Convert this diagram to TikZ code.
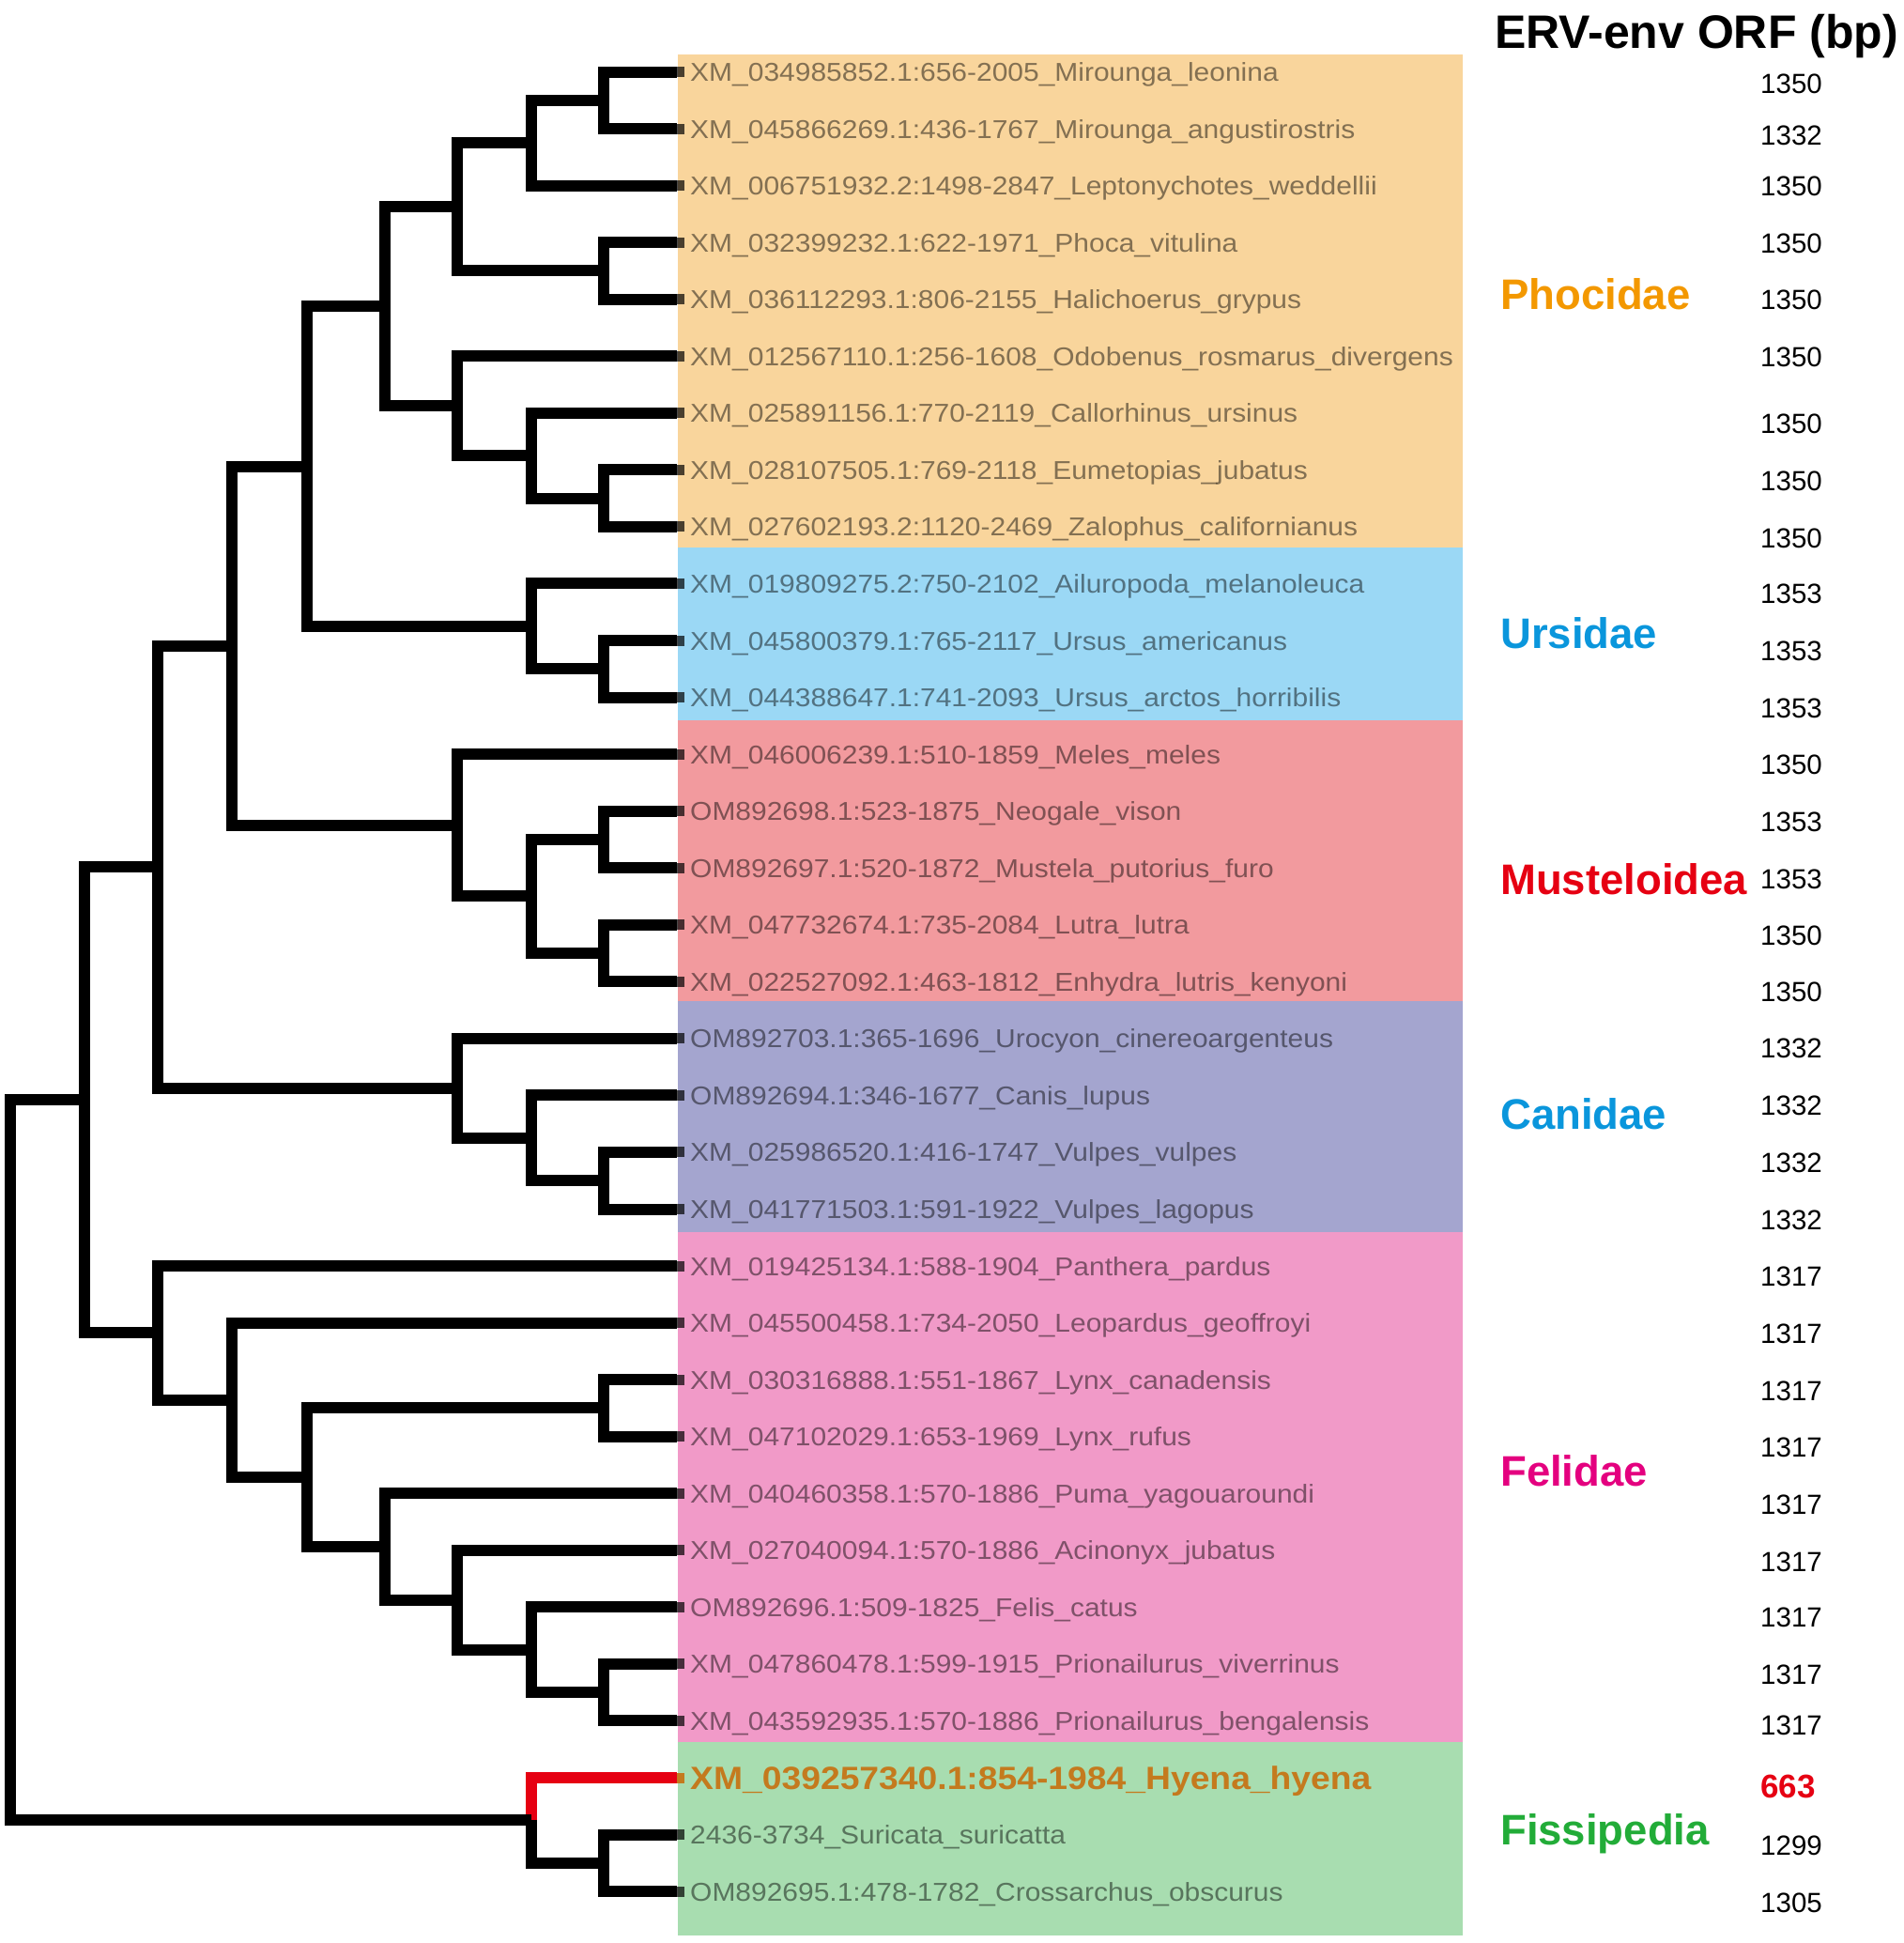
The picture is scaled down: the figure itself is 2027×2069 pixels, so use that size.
\documentclass[tikz,border=0pt]{standalone}
\usepackage{fontspec}
\setmainfont{Liberation Sans}
\newfontfamily\labfont[FakeStretch=1.09]{Liberation Sans}
\definecolor{bphoc}{HTML}{F9D59C}
\definecolor{burs}{HTML}{9BD8F5}
\definecolor{bmus}{HTML}{F29A9E}
\definecolor{bcan}{HTML}{A4A5CF}
\definecolor{bfel}{HTML}{F19AC8}
\definecolor{bfis}{HTML}{A8DDB0}
\definecolor{cphoc}{HTML}{F39800}
\definecolor{cblue}{HTML}{0A96DC}
\definecolor{cred}{HTML}{E60012}
\definecolor{cfel}{HTML}{E4007F}
\definecolor{cfis}{HTML}{22AC38}
\definecolor{chyena}{HTML}{C47A1E}
\newcommand\myleaf[3]{\coordinate (l#1) at (721,#2);
  \fill[stub] (721,{#2-5.5}) rectangle (729,{#2+5.5});
  \node[lab] (t#1) at (735,{#2+10}) {#3};}
\newcommand\mynum[3]{\node[num] (v#1) at (1875,{#2+10.6}) {#3};}
\begin{document}
\begin{tikzpicture}[x=1pt,y=-1pt,
  branch/.style={line width=12pt, line join=miter, draw=black},
  hyb/.style={line width=12pt, line join=miter, draw=cred},
  stub/.style={fill=black, fill opacity=0.7},
  lab/.style={anchor=base west, inner sep=0pt, font=\labfont\fontsize{27.5}{30}\selectfont, text=black, text opacity=0.47},
  num/.style={anchor=base west, inner sep=0pt, font=\fontsize{29.5}{30}\selectfont},
  grp/.style={anchor=base west, inner sep=0pt, font=\bfseries\fontsize{45.5}{48}\selectfont}]
\useasboundingbox (0,0) rectangle (2027,2069);
% bands
\fill[bphoc] (722,58) rectangle (1558,583);
\fill[burs] (722,583) rectangle (1558,767);
\fill[bmus] (722,767) rectangle (1558,1066);
\fill[bcan] (722,1066) rectangle (1558,1312);
\fill[bfel] (722,1312) rectangle (1558,1855);
\fill[bfis] (722,1855) rectangle (1558,2061);
% leaves
\myleaf{0}{76.5}{XM\_034985852.1:656-2005\_Mirounga\_leonina}
\myleaf{1}{137.05}{XM\_045866269.1:436-1767\_Mirounga\_angustirostris}
\myleaf{2}{197.6}{XM\_006751932.2:1498-2847\_Leptonychotes\_weddellii}
\myleaf{3}{258.15}{XM\_032399232.1:622-1971\_Phoca\_vitulina}
\myleaf{4}{318.7}{XM\_036112293.1:806-2155\_Halichoerus\_grypus}
\myleaf{5}{379.25}{XM\_012567110.1:256-1608\_Odobenus\_rosmarus\_divergens}
\myleaf{6}{439.8}{XM\_025891156.1:770-2119\_Callorhinus\_ursinus}
\myleaf{7}{500.35}{XM\_028107505.1:769-2118\_Eumetopias\_jubatus}
\myleaf{8}{560.9}{XM\_027602193.2:1120-2469\_Zalophus\_californianus}
\myleaf{9}{621.45}{XM\_019809275.2:750-2102\_Ailuropoda\_melanoleuca}
\myleaf{10}{682.0}{XM\_045800379.1:765-2117\_Ursus\_americanus}
\myleaf{11}{742.55}{XM\_044388647.1:741-2093\_Ursus\_arctos\_horribilis}
\myleaf{12}{803.1}{XM\_046006239.1:510-1859\_Meles\_meles}
\myleaf{13}{863.65}{OM892698.1:523-1875\_Neogale\_vison}
\myleaf{14}{924.2}{OM892697.1:520-1872\_Mustela\_putorius\_furo}
\myleaf{15}{984.75}{XM\_047732674.1:735-2084\_Lutra\_lutra}
\myleaf{16}{1045.3}{XM\_022527092.1:463-1812\_Enhydra\_lutris\_kenyoni}
\myleaf{17}{1105.85}{OM892703.1:365-1696\_Urocyon\_cinereoargenteus}
\myleaf{18}{1166.4}{OM892694.1:346-1677\_Canis\_lupus}
\myleaf{19}{1226.95}{XM\_025986520.1:416-1747\_Vulpes\_vulpes}
\myleaf{20}{1287.5}{XM\_041771503.1:591-1922\_Vulpes\_lagopus}
\myleaf{21}{1348.05}{XM\_019425134.1:588-1904\_Panthera\_pardus}
\myleaf{22}{1408.6}{XM\_045500458.1:734-2050\_Leopardus\_geoffroyi}
\myleaf{23}{1469.15}{XM\_030316888.1:551-1867\_Lynx\_canadensis}
\myleaf{24}{1529.7}{XM\_047102029.1:653-1969\_Lynx\_rufus}
\myleaf{25}{1590.25}{XM\_040460358.1:570-1886\_Puma\_yagouaroundi}
\myleaf{26}{1650.8}{XM\_027040094.1:570-1886\_Acinonyx\_jubatus}
\myleaf{27}{1711.35}{OM892696.1:509-1825\_Felis\_catus}
\myleaf{28}{1771.9}{XM\_047860478.1:599-1915\_Prionailurus\_viverrinus}
\myleaf{29}{1832.45}{XM\_043592935.1:570-1886\_Prionailurus\_bengalensis}
\coordinate (l30) at (721,1893);
\fill[chyena] (721,1887.5) rectangle (729,1898.5);
\node[anchor=base west, inner sep=0pt, font=\labfont\bfseries\fontsize{34.2}{36}\selectfont, text=chyena] (t30) at (735,1905.5) {XM\_039257340.1:854-1984\_Hyena\_hyena};
\myleaf{31}{1953.55}{2436-3734\_Suricata\_suricatta}
\myleaf{32}{2014.1}{OM892695.1:478-1782\_Crossarchus\_obscurus}
% internal nodes
\coordinate (a01) at (642.7,106.78);
\coordinate (a012) at (566.2,152.19);
\coordinate (a34) at (642.7,288.43);
\coordinate (a01234) at (487,220.31);
\coordinate (a78) at (642.7,530.63);
\coordinate (a678) at (566.2,485.21);
\coordinate (a5678) at (487,432.23);
\coordinate (aPho) at (410.4,326.27);
\coordinate (a1011) at (642.7,712.28);
\coordinate (aUrs) at (566.2,666.86);
\coordinate (aPU) at (327.3,496.57);
\coordinate (a1314) at (642.7,893.93);
\coordinate (a1516) at (642.7,1015.03);
\coordinate (a1316) at (566.2,954.48);
\coordinate (aMus) at (487,878.79);
\coordinate (aPUM) at (246.8,687.68);
\coordinate (a1920) at (642.7,1257.23);
\coordinate (a1820) at (566.2,1211.82);
\coordinate (aCan) at (487,1158.84);
\coordinate (aCanif) at (167.6,923.26);
\coordinate (a2324) at (642.7,1499.43);
\coordinate (a2829) at (642.7,1802.18);
\coordinate (a2729) at (566.2,1756.76);
\coordinate (a2629) at (487,1703.78);
\coordinate (a2529) at (410.4,1647.02);
\coordinate (a2329) at (327.3,1573.22);
\coordinate (a2229) at (246.8,1490.91);
\coordinate (aFel) at (167.6,1419.48);
\coordinate (aCF) at (89.7,1171.37);
\coordinate (a3132) at (642.7,1983.83);
\coordinate (aFis) at (566.2,1938.41);
\coordinate (root) at (10.6,1554.89);
% red hyena branch
\draw[hyb] (l30) -| (aFis);
% tree
\draw[branch] (l0) -| (a01) |- (l1);
\draw[branch] (a01) -| (a012) |- (l2);
\draw[branch] (l3) -| (a34) |- (l4);
\draw[branch] (a012) -| (a01234) |- (a34);
\draw[branch] (l7) -| (a78) |- (l8);
\draw[branch] (l6) -| (a678) |- (a78);
\draw[branch] (l5) -| (a5678) |- (a678);
\draw[branch] (a01234) -| (aPho) |- (a5678);
\draw[branch] (l10) -| (a1011) |- (l11);
\draw[branch] (l9) -| (aUrs) |- (a1011);
\draw[branch] (aPho) -| (aPU) |- (aUrs);
\draw[branch] (l13) -| (a1314) |- (l14);
\draw[branch] (l15) -| (a1516) |- (l16);
\draw[branch] (a1314) -| (a1316) |- (a1516);
\draw[branch] (l12) -| (aMus) |- (a1316);
\draw[branch] (aPU) -| (aPUM) |- (aMus);
\draw[branch] (l19) -| (a1920) |- (l20);
\draw[branch] (l18) -| (a1820) |- (a1920);
\draw[branch] (l17) -| (aCan) |- (a1820);
\draw[branch] (aPUM) -| (aCanif) |- (aCan);
\draw[branch] (l23) -| (a2324) |- (l24);
\draw[branch] (l28) -| (a2829) |- (l29);
\draw[branch] (l27) -| (a2729) |- (a2829);
\draw[branch] (l26) -| (a2629) |- (a2729);
\draw[branch] (l25) -| (a2529) |- (a2629);
\draw[branch] (a2324) -| (a2329) |- (a2529);
\draw[branch] (l22) -| (a2229) |- (a2329);
\draw[branch] (l21) -| (aFel) |- (a2229);
\draw[branch] (aCanif) -| (aCF) |- (aFel);
\draw[branch] (l31) -| (a3132) |- (l32);
\draw[branch] (aFis) |- (a3132);
\draw[branch] (aCF) -| (root) |- (aFis);
% header and groups
\node[anchor=base west, inner sep=0pt, font=\bfseries\fontsize{50}{52}\selectfont] (hdr) at (1592,51) {ERV-env ORF (bp)};
\node[grp, text=cphoc] (gPho) at (1598,{313.5+16.3}) {Phocidae};
\node[grp, text=cblue] (gUrs) at (1598,{674.4+16.3}) {Ursidae};
\node[grp, text=cred] (gMus) at (1598,{935.7+16.3}) {Musteloidea};
\node[grp, text=cblue] (gCan) at (1598,{1186.4+16.3}) {Canidae};
\node[grp, text=cfel] (gFel) at (1598,{1566.5+16.3}) {Felidae};
\node[grp, text=cfis] (gFis) at (1598,{1948+16.3}) {Fissipedia};
% numbers
\mynum{0}{88.4}{1350}
\mynum{1}{143.8}{1332}
\mynum{2}{198}{1350}
\mynum{3}{258.7}{1350}
\mynum{4}{319}{1350}
\mynum{5}{380}{1350}
\mynum{6}{451}{1350}
\mynum{7}{512}{1350}
\mynum{8}{573}{1350}
\mynum{9}{632}{1353}
\mynum{10}{693}{1353}
\mynum{11}{753.5}{1353}
\mynum{12}{814}{1350}
\mynum{13}{875}{1353}
\mynum{14}{936}{1353}
\mynum{15}{996}{1350}
\mynum{16}{1056}{1350}
\mynum{17}{1116}{1332}
\mynum{18}{1177}{1332}
\mynum{19}{1238}{1332}
\mynum{20}{1298.6}{1332}
\mynum{21}{1359}{1317}
\mynum{22}{1420}{1317}
\mynum{23}{1481}{1317}
\mynum{24}{1541}{1317}
\mynum{25}{1602}{1317}
\mynum{26}{1663}{1317}
\mynum{27}{1722}{1317}
\mynum{28}{1783}{1317}
\mynum{29}{1837}{1317}
\node[anchor=base west, inner sep=0pt, font=\bfseries\fontsize{35}{36}\selectfont, text=cred] (v30) at (1875,1914.5) {663};
\mynum{31}{1965}{1299}
\mynum{32}{2026}{1305}
\end{tikzpicture}
\end{document}
